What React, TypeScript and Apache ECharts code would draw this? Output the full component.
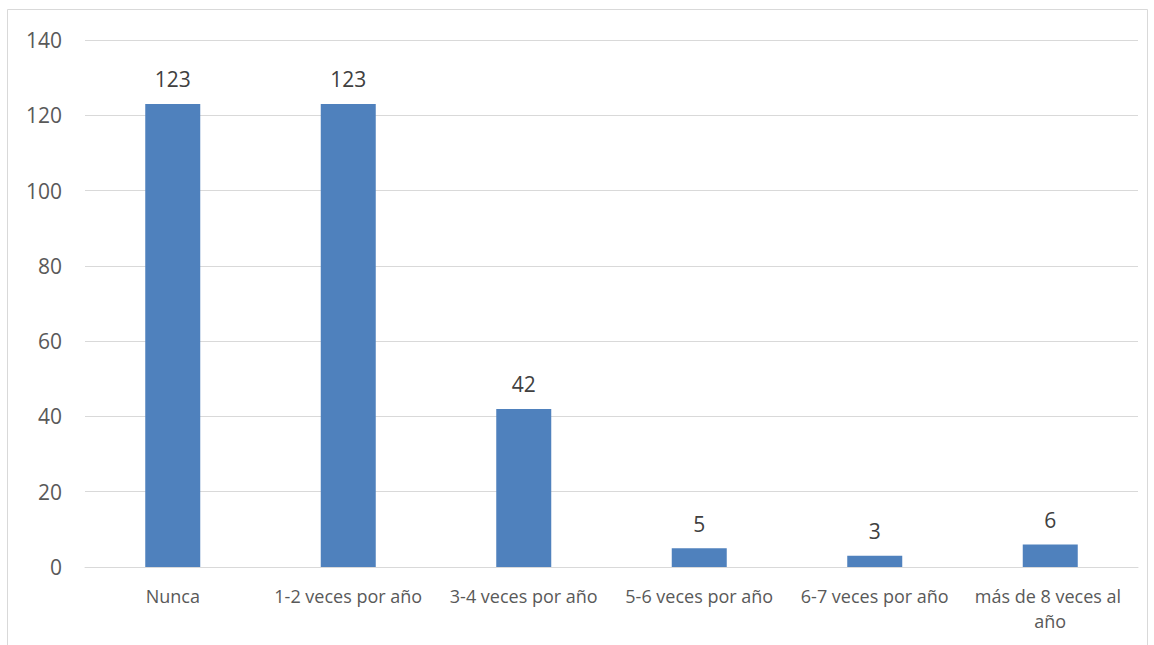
import React, { useEffect, useRef } from "react";
import * as echarts from "echarts";

const categories = [
  "Nunca",
  "1-2 veces por año",
  "3-4 veces por año",
  "5-6 veces por año",
  "6-7 veces por año",
  "más de 8 veces al año",
];
const counts = [123, 123, 42, 5, 3, 6];

const FONT = "'Open Sans', 'Noto Sans', sans-serif";

export default function App() {
  const ref = useRef<HTMLDivElement>(null);

  useEffect(() => {
    if (!ref.current) return;
    const chart = echarts.init(ref.current, undefined, { renderer: "svg" });
    chart.setOption({
      animation: false,
      backgroundColor: "#ffffff",
      textStyle: { fontFamily: FONT },
      graphic: [
        {
          type: "rect",
          shape: { x: 7.5, y: 9.5, width: 1140, height: 700 },
          style: { fill: "none", stroke: "#d9d9d9", lineWidth: 1 },
          silent: true,
        },
      ],
      grid: { left: 85, right: 16, top: 40, bottom: 78 },
      xAxis: {
        type: "category",
        data: categories,
        axisLine: { show: true, lineStyle: { color: "#d9d9d9", width: 1 } },
        axisTick: { show: false },
        axisLabel: {
          color: "#595959",
          fontSize: 18,
          fontFamily: FONT,
          margin: 16,
          lineHeight: 25,
          width: 168,
          overflow: "break",
          interval: 0,
        },
      },
      yAxis: {
        type: "value",
        min: 0,
        max: 140,
        interval: 20,
        axisLine: { show: false },
        axisTick: { show: false },
        splitLine: { lineStyle: { color: "#d9d9d9", width: 1 } },
        axisLabel: { color: "#595959", fontSize: 21, fontFamily: FONT, margin: 23 },
      },
      series: [
        {
          type: "bar",
          data: counts,
          barWidth: 55,
          itemStyle: { color: "#4f81bd" },
          label: {
            show: true,
            position: "top",
            distance: 14,
            color: "#404040",
            fontSize: 21,
            fontFamily: FONT,
          },
        },
      ],
    });
    return () => chart.dispose();
  }, []);

  return (
    <div
      ref={ref}
      style={{ position: "absolute", left: 0, top: 0, width: 1154, height: 645 }}
    />
  );
}
